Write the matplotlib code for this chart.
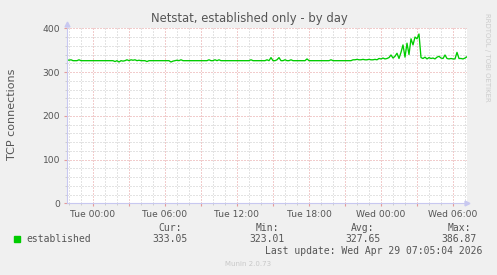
# ================= IMPORT LIBRARIES =================
import numpy as np
import matplotlib
matplotlib.use("Agg")
import matplotlib.pyplot as plt
from matplotlib.ticker import MultipleLocator, FuncFormatter

# ================= DATA =================
# 10 minute samples, starting Mon 21:50 (hours relative to Tue 00:00)
start_hour = -13 / 6
step_hour = 1 / 6
established = [
    328, 327, 328, 326, 326, 326,
    328, 326, 326, 326, 326, 326,
    326, 326, 326, 326, 326, 326,
    326, 326, 326, 326, 326, 326,
    324, 326, 323, 326, 325, 326,
    328, 326, 328, 327, 328, 326,
    327, 326, 326, 326, 324, 326,
    326, 326, 326, 326, 326, 326,
    326, 326, 326, 326, 323, 325,
    326, 327, 326, 328, 326, 326,
    326, 326, 326, 326, 326, 326,
    326, 326, 326, 326, 326, 328,
    326, 326, 328, 326, 328, 326,
    326, 326, 326, 326, 326, 326,
    326, 326, 326, 326, 326, 326,
    326, 326, 328, 326, 326, 326,
    326, 326, 326, 326, 328, 326,
    333, 326, 326, 328, 333, 326,
    326, 328, 326, 326, 328, 326,
    326, 326, 326, 326, 326, 326,
    330, 326, 326, 326, 326, 326,
    326, 326, 326, 326, 326, 326,
    328, 326, 326, 326, 326, 326,
    326, 326, 326, 326, 326, 328,
    328, 329, 328, 328, 329, 328,
    328, 329, 328, 328, 329, 328,
    331, 330, 332, 330, 331, 333,
    339, 332, 336, 343, 331, 345,
    362, 334, 366, 340, 376, 362,
    380, 376, 387, 333, 331, 334,
    330, 333, 331, 332, 330, 334,
    336, 332, 331, 339, 331, 330,
    331, 330, 330, 345, 331, 331,
    330, 332, 335,
]
hours = start_hour + step_hour * np.arange(len(established))

day_names = ["Mon", "Tue", "Wed"]
legend_name = "established"
stat_labels = ["Cur:", "Min:", "Avg:", "Max:"]
stat_values = ["333.05", "323.01", "327.65", "386.87"]

# ================= STYLE =================
bg = "#f0f0f0"
green = "#00cc00"
text_col = "#555555"
grey_grid = "#c8c8c8"
red_grid = "#e49a9a"
mono = "DejaVu Sans Mono"

fig = plt.figure(figsize=(4.97, 2.75), dpi=100, facecolor=bg)
W, H = 497, 275
ax = fig.add_axes([67 / W, (H - 203.3) / H, 400 / W, 175 / H])
ax.set_facecolor("white")

# ================= PLOT =================
ax.plot(hours, established, color=green, lw=0.95)

ax.set_xlim(start_hour, start_hour + 400 / 12)
ax.set_ylim(0, 400)

# grid (dotted, like rrdtool)
ax.xaxis.set_major_locator(MultipleLocator(3))
ax.xaxis.set_minor_locator(MultipleLocator(1))
ax.yaxis.set_major_locator(MultipleLocator(100))
ax.yaxis.set_minor_locator(MultipleLocator(20))
ax.grid(which="minor", color=grey_grid, ls=(0, (1, 2)), lw=0.72)
ax.grid(which="major", color=red_grid, ls=(0, (1, 2)), lw=0.72)
ax.set_axisbelow(True)


def fmt_x(v, pos):
    h = int(round(v))
    if h % 6 != 0:
        return ""
    return "%s %02d:00" % (day_names[h // 24 + 1], h % 24)


ax.xaxis.set_major_formatter(FuncFormatter(fmt_x))
ax.tick_params(which="major", axis="x", length=2, color=red_grid,
               labelsize=6.6, labelcolor=text_col, pad=3)
ax.tick_params(which="major", axis="y", length=2, color=red_grid,
               labelsize=6.6, labelcolor=text_col, pad=3)
ax.tick_params(which="minor", length=1.5, color=grey_grid)

for side in ["top", "right"]:
    ax.spines[side].set_visible(False)
for side in ["left", "bottom"]:
    ax.spines[side].set_color("#c8c8f0")
    ax.spines[side].set_linewidth(0.8)

# axis arrows
ax.plot(1.0, 0, ">", transform=ax.transAxes, color="#c8c8f0", ms=3.5, clip_on=False)
ax.plot(0, 1.025, "^", transform=ax.transAxes, color="#c8c8f0", ms=3.5, clip_on=False)

# ================= TEXT =================
fig.text(249 / W, 1 - 18.5 / H, "Netstat, established only - by day",
         ha="center", va="center", fontsize=8.4, color=text_col)
fig.text(12 / W, 1 - 114 / H, "TCP connections", rotation=90,
         ha="center", va="center", fontsize=8, color=text_col)
fig.text(487 / W, 1 - 57 / H, "RRDTOOL / TOBI OETIKER", rotation=270,
         ha="center", va="center", fontsize=5, color="#cccccc")

# legend
fig.patches.append(plt.Rectangle((14 / W, 1 - 242 / H), 6 / W, 6 / H,
                                 transform=fig.transFigure, color=green))
fig.text(26 / W, 1 - 239.5 / H, legend_name, ha="left", va="center",
         fontsize=7, family=mono, color=text_col)

stat_x = [170, 267, 363, 459]
for x, lab, val in zip(stat_x, stat_labels, stat_values):
    fig.text(x / W, 1 - 228 / H, lab, ha="center", va="center",
             fontsize=7, family=mono, color=text_col)
    fig.text(x / W, 1 - 239.5 / H, val, ha="center", va="center",
             fontsize=7, family=mono, color=text_col)

fig.text(482 / W, 1 - 251 / H, "Last update: Wed Apr 29 07:05:04 2026",
         ha="right", va="center", fontsize=7, family=mono, color=text_col)
fig.text(248 / W, 1 - 264 / H, "Munin 2.0.73", ha="center", va="center",
         fontsize=5, color="#c8c8c8")

# ================= SAVE =================
fig.savefig("out.png", dpi=100, facecolor=bg)
